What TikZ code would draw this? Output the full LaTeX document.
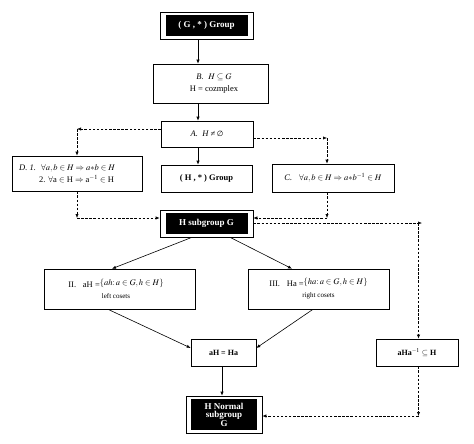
\documentclass[tikz,border=0pt]{standalone}
\usepackage{mathptmx}
\usepackage{fontspec}
\setmainfont{Liberation Serif}
\newfontfamily\symf{DejaVu Sans}
\usetikzlibrary{arrows.meta,calc}
\begin{document}
\begin{tikzpicture}[x=1pt,y=-1pt,
  font=\fontsize{8.5}{10}\selectfont,
  bx/.style={draw, line width=0.6pt, fill=white, inner sep=0pt, align=center},
  blk/.style={fill=black, text=white, inner sep=0pt, align=center, font=\fontsize{9}{9.5}\selectfont\bfseries},
  arr/.style={-{Latex[length=4pt,width=3.2pt]}, line width=0.6pt},
  darr/.style={arr, dash pattern=on 2.5pt off 1.6pt}]
\fill[white] (0,0) rectangle (474,444);
\useasboundingbox (0,0) rectangle (474,444);

% boxes
\node[bx, minimum width=93pt, minimum height=27pt] (top) at (206.5,25.5) {};
\node[blk, minimum width=82pt, minimum height=21pt] (topi) at (top) {( G , * ) Group};

\node[bx, minimum width=115pt, minimum height=39pt] (B) at (210.5,83.5) {};
\node[align=center, inner sep=0pt] (Bt) at (214,83.5) {\textit{B.}\; $H\subseteq G$\\[2pt] H = cozmplex};

\node[bx, minimum width=92pt, minimum height=26pt] (A) at (207,134) {\textit{A.\; H ≠\,}{\symf\fontsize{7.5}{9}\selectfont ∅}};

\node[bx, minimum width=91pt, minimum height=27pt, font=\fontsize{8.5}{9.5}\selectfont\bfseries] (HG) at (206.5,178.5) {( H , * ) Group};

\node[bx, minimum width=130pt, minimum height=35pt] (D) at (77,173.5) {};
\node[align=left, anchor=west, inner sep=0pt] (Dt) at (19,173.5) {\textit{D. 1.}\; $\forall a,b \in H \Rightarrow a{*}b \in H$\\[2pt] \hspace{20pt}2. $\forall$a $\in$ H $\Rightarrow$ a$^{-1}$ $\in$ H};

\node[bx, minimum width=122pt, minimum height=28pt] (C) at (333,178) {\textit{C.}\;\; $\forall a,b \in H \Rightarrow a{*}b^{-1} \in H$};

\node[bx, minimum width=93pt, minimum height=27pt] (Hs) at (206.5,223.5) {};
\node[blk, minimum width=82pt, minimum height=21pt] (Hsi) at (Hs) {H subgroup G};

\node[bx, minimum width=151pt, minimum height=40pt] (II) at (119.5,289) {};
\node[align=center, inner sep=0pt] (IIt) at (116,289) {II.\;\; \textsc{a}H =\raisebox{2pt}{$\{ah\colon a\in G, h\in H\}$}\\[1pt] {\fontsize{7}{8}\selectfont left cosets}};

\node[bx, minimum width=141pt, minimum height=40pt] (III) at (318.5,289) {};
\node[align=center, inner sep=0pt] (IIIt) at (318.5,289) {III.\;\; H\textsc{a} =\raisebox{2pt}{$\{ha\colon a\in G, h\in H\}$}\\[1pt] {\fontsize{7}{8}\selectfont right cosets}};

\node[bx, minimum width=65pt, minimum height=27pt, font=\fontsize{8}{9.5}\selectfont\bfseries] (E) at (223.5,352.5) {aH = Ha};

\node[bx, minimum width=82pt, minimum height=27pt, font=\fontsize{8}{9.5}\selectfont\bfseries] (aHa) at (417,352.5) {aHa$^{-1}$ $\subseteq$ H};

\node[bx, minimum width=76pt, minimum height=37pt] (HN) at (224,414.5) {};
\node[blk, minimum width=66pt, minimum height=31pt, font=\fontsize{9}{8.5}\selectfont\bfseries] (HNi) at (HN) {H Normal\\subgroup\\G};

% solid arrows
\draw[arr] ($(top.south)+(-8.5,0)$) -- ($(B.north)+(-12.5,0)$);
\draw[arr] ($(B.south)+(-12.5,0)$) -- ($(A.north)+(-9,0)$);
\draw[arr] ($(A.south)+(-9,0)$) -- ($(HG.north)+(-8.5,0)$);
\draw[arr] ($(Hs.south)+(-14.5,0)$) -- ($(II.north)+(-7.5,0)$);
\draw[arr] ($(Hs.south)+(23.5,0)$) -- ($(III.north)+(-26.5,0)$);
\draw[arr] ($(II.south)+(-11.5,0)$) -- ($(E.west)+(0,-4.5)$);
\draw[arr] ($(III.south)+(-5.5,0)$) -- ($(E.east)+(0,-4.5)$);
\draw[arr] ($(E.south)+(-1.5,0)$) -- ($(HN.north)+(-2,0)$);

% dashed routes
\coordinate (cL) at (77,129);
\draw[darr] (A.west |- cL) -- (cL);
\draw[darr] (cL) -- (D.north -| cL);
\coordinate (cR) at (327,138);
\draw[darr] (A.east |- cR) -- (cR);
\draw[darr] (cR) -- (C.north -| cR);
\coordinate (dL) at (77,218);
\draw[darr] (D.south -| dL) -- (dL);
\draw[darr] (dL) -- (Hs.west |- dL);
\coordinate (dR) at (327,218);
\draw[darr] (C.south -| dR) -- (dR);
\draw[darr] (dR) -- (Hs.east |- dR);
\coordinate (eR) at (422,223);
\coordinate (eV) at (418.5,223);
\draw[darr] (Hs.east |- eR) -- (eR);
\draw[darr] (eV) -- (aHa.north -| eV);
\coordinate (fR) at (418.5,416);
\draw[darr] (aHa.south -| fR) -- (fR);
\draw[darr] (fR) -- (HN.east |- fR);
\end{tikzpicture}
\end{document}
